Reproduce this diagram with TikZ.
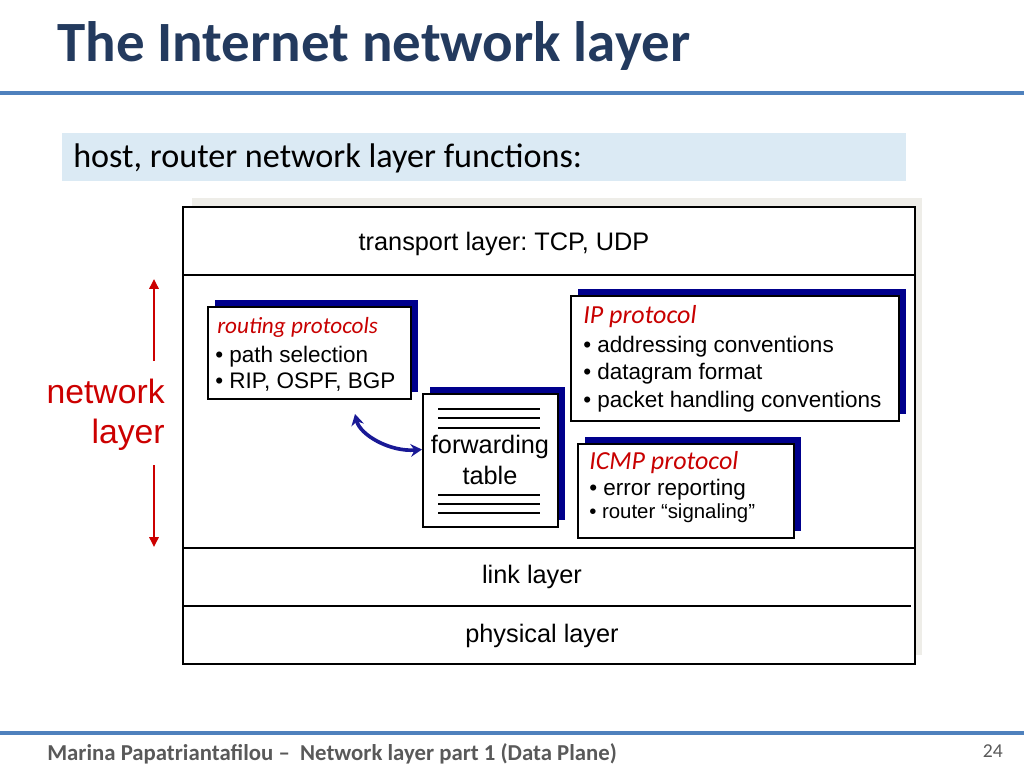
\documentclass[tikz,border=0pt]{standalone}
\usepackage{fontspec}
\setmainfont{Liberation Sans}
\newfontfamily\calibri{Carlito}
\usetikzlibrary{arrows.meta,shadows}
\frenchspacing

\definecolor{titleblue}{RGB}{35,58,94}
\definecolor{ruleblue}{RGB}{79,129,189}
\definecolor{boxblue}{RGB}{219,234,244}
\definecolor{shadegray}{RGB}{238,237,232}
\definecolor{navyshade}{RGB}{0,0,140}
\definecolor{protored}{RGB}{200,0,0}
\definecolor{nlred}{RGB}{204,0,0}
\definecolor{arrowblue}{RGB}{25,25,150}
\definecolor{footgray}{RGB}{89,89,89}

\tikzset{
  protobox/.style={draw=black, line width=1.4pt, fill=white, anchor=north west, inner sep=0,
    drop shadow={shadow xshift=0.175cm, shadow yshift=0.175cm, fill=navyshade, opacity=1}},
  protohead/.style={anchor=base west, inner sep=0, text=protored,
    font=\calibri\itshape\fontsize{18.5}{22}\selectfont},
  prototext/.style={anchor=base west, inner sep=0, font=\fontsize{16}{19}\selectfont},
  layertext/.style={inner sep=0, font=\fontsize{18}{21}\selectfont},
  nltext/.style={anchor=base east, inner sep=0, text=nlred, font=\fontsize{24}{28}\selectfont},
  nlarrow/.style={draw=nlred, line width=2pt, -{Triangle[length=7pt, width=6.5pt]}},
  fwdarrow/.style={draw=arrowblue, line width=2.6pt,
    {Stealth[length=8pt, width=9pt]}-{Stealth[length=8pt, width=9pt]}}
}

\begin{document}
\begin{tikzpicture}[x=0.025cm, y=-0.025cm]
  \useasboundingbox (0,0) rectangle (1024,768);

  % Titel
  \node[anchor=base west, inner sep=0, text=titleblue,
    font=\calibri\bfseries\fontsize{40.5}{48}\selectfont] (title) at (57,62) {The Internet network layer};
  \draw[ruleblue, line width=2.2pt] (0,93) -- (1024,93);

  % Untertitel
  \fill[boxblue] (62,133) rectangle (906,181);
  \node[anchor=base west, inner sep=0, font=\calibri\fontsize{24.3}{28}\selectfont] (subtitle) at (73,167)
    {host, router network layer functions:};

  % Schichten
  \fill[shadegray] (192,198) rectangle (922,655);
  \draw[fill=white, line width=1.4pt] (183,207) rectangle (915,664);
  \draw[line width=1.4pt] (183,275) -- (915,275);
  \draw[line width=1.4pt] (183,548) -- (915,548);
  \draw[line width=1.4pt] (183,606) -- (911,606);
  \node[layertext] (transport) at (504,244) {transport layer: TCP, UDP};
  \node[layertext] (link) at (532,577) {link layer};
  \node[layertext] (physical) at (542,636) {physical layer};

  % Routing
  \node[protobox, minimum width=5.075cm, minimum height=2.3cm] (rpbox) at (207,306) {};
  \node[protohead, font=\calibri\itshape\fontsize{16.5}{20}\selectfont] (rphead) at (217,333) {routing protocols};
  \node[prototext] (rpa) at (215,362) {• path selection};
  \node[prototext] (rpb) at (215,388) {• RIP, OSPF, BGP};

  % IP
  \node[protobox, minimum width=8.2cm, minimum height=3.125cm] (ipbox) at (570,295) {};
  \node[protohead] (iphead) at (583,323) {IP protocol};
  \node[prototext] (ipa) at (583,352) {• addressing conventions};
  \node[prototext] (ipb) at (583,379) {• datagram format};
  \node[prototext] (ipc) at (583,407) {• packet handling conventions};

  % Forwarding table
  \node[protobox, minimum width=3.375cm, minimum height=3.325cm] (fwdbox) at (422,393) {};
  \draw[line width=1.3pt] (438,409) -- (540,409) (438,418) -- (540,418) (438,428) -- (540,428)
    (438,495) -- (540,495) (438,504) -- (540,504) (438,513) -- (540,513);
  \node[layertext, align=center, font=\fontsize{18}{21.5}\selectfont] (fwdtext) at (490,460) {forwarding\\table};

  % ICMP
  \node[protobox, minimum width=5.4cm, minimum height=2.35cm] (icmpbox) at (577,443) {};
  \node[protohead] (icmphead) at (589,469) {ICMP protocol};
  \node[prototext] (icmpa) at (589,495) {• error reporting};
  \node[prototext, font=\fontsize{14.5}{17}\selectfont] (icmpb) at (589,518) {• router “signaling”};

  % Pfeil
  \draw[fwdarrow] ([shift={(-57,14)}]rpbox.south east) .. controls (360,435) and (390,452) .. ([shift={(0,-11)}]fwdbox.west);

  % network layer
  \node[nltext] (nlone) at (165,403) {network};
  \node[nltext] (nltwo) at (165,443) {layer};
  \coordinate (nltopa) at (154,361);
  \coordinate (nltop) at (154,279);
  \coordinate (nlbota) at (154,465);
  \coordinate (nlbot) at (154,547);
  \draw[nlarrow] (nltopa) -- (nltop);
  \draw[nlarrow] (nlbota) -- (nlbot);

  % Fusszeile
  \draw[ruleblue, line width=2.2pt] (0,733) -- (1024,733);
  \node[anchor=base west, inner sep=0, text=footgray, font=\calibri\bfseries\fontsize{16.2}{19}\selectfont] (footer) at (47,760)
    {Marina Papatriantafilou –\ \ Network layer part 1 (Data Plane)};
  \node[anchor=base east, inner sep=0, text=footgray, font=\calibri\fontsize{14}{17}\selectfont] (page) at (1003,757) {24};
\end{tikzpicture}
\end{document}
